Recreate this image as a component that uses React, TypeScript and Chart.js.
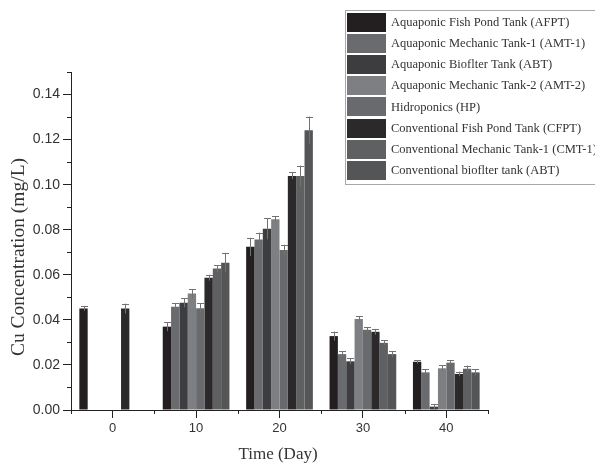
import React, { useEffect, useRef } from "react";
import { Chart, registerables } from "chart.js";

Chart.register(...registerables);

// Sampling days
const days = ["0", "10", "20", "30", "40"];

// Series names
const seriesNames = [
  "Aquaponic Fish Pond Tank (AFPT)",
  "Aquaponic Mechanic Tank-1 (AMT-1)",
  "Aquaponic Bioflter Tank (ABT)",
  "Aquaponic Mechanic Tank-2 (AMT-2)",
  "Hidroponics (HP)",
  "Conventional Fish Pond Tank (CFPT)",
  "Conventional Mechanic Tank-1 (CMT-1)",
  "Conventional bioflter tank (ABT)",
];

const seriesColors = [
  "#231f20",
  "#6a6b6e",
  "#3d3d3f",
  "#7e7f82",
  "#696a6d",
  "#2b292a",
  "#5f6062",
  "#545557",
];

// Cu concentration (mg/L) per series, per day
const afpt = [0.045, 0.037, 0.0724, 0.0328, 0.0214];
const amt1 = [null, 0.0458, 0.0757, 0.0248, 0.0167];
const abt = [null, 0.0476, 0.0804, 0.0216, 0.0015];
const amt2 = [null, 0.0517, 0.0847, 0.0404, 0.0185];
const hp = [null, 0.0451, 0.071, 0.0356, 0.021];
const cfpt = [0.045, 0.0587, 0.1039, 0.0347, 0.016];
const cmt1 = [null, 0.0628, 0.1039, 0.0298, 0.0183];
const cbt = [null, 0.0653, 0.1242, 0.0248, 0.0167];

// Standard deviations
const afptErr = [0.001, 0.002, 0.004, 0.002, 0.0008];
const amt1Err = [0, 0.0015, 0.003, 0.0013, 0.0013];
const abtErr = [0, 0.002, 0.0046, 0.0013, 0.0012];
const amt2Err = [0, 0.002, 0.0012, 0.0011, 0.0013];
const hpErr = [0, 0.0022, 0.0023, 0.0012, 0.001];
const cfptErr = [0.0022, 0.0013, 0.0015, 0.0013, 0.001];
const cmt1Err = [0, 0.0015, 0.0046, 0.0012, 0.0014];
const cbtErr = [0, 0.0042, 0.006, 0.0013, 0.0013];

// Y axis tick values
const yTicks = [0, 0.02, 0.04, 0.06, 0.08, 0.1, 0.12, 0.14];

const seriesValues = [afpt, amt1, abt, amt2, hp, cfpt, cmt1, cbt];
const seriesErrors = [afptErr, amt1Err, abtErr, amt2Err, hpErr, cfptErr, cmt1Err, cbtErr];

const SERIF = "'Liberation Serif', 'Times New Roman', serif";
const SANS = "'Liberation Sans', Arial, sans-serif";

const decorPlugin = {
  id: "decor",
  afterDatasetsDraw(chart: any) {
    const ctx = chart.ctx;
    const y = chart.scales.y;
    // error bars
    ctx.save();
    ctx.strokeStyle = "#727272";
    ctx.lineWidth = 1;
    chart.data.datasets.forEach((ds: any, di: number) => {
      const meta = chart.getDatasetMeta(di);
      const errs = seriesErrors[di];
      meta.data.forEach((el: any, i: number) => {
        const v = ds.data[i];
        const e = errs[i];
        if (v == null || !e) return;
        const x = Math.round(el.x) + 0.5;
        const yt = y.getPixelForValue(v + e);
        const yb = y.getPixelForValue(Math.max(0, v - e));
        ctx.beginPath();
        ctx.moveTo(x, yt);
        ctx.lineTo(x, yb);
        ctx.moveTo(x - 3.5, Math.round(yt) + 0.5);
        ctx.lineTo(x + 3.5, Math.round(yt) + 0.5);
        ctx.stroke();
      });
    });
    ctx.restore();
  },
  afterDraw(chart: any) {
    const ctx = chart.ctx;
    const xs = chart.scales.x;
    const ys = chart.scales.y;
    const area = chart.chartArea;
    ctx.save();
    ctx.strokeStyle = "#222";
    ctx.lineWidth = 1;
    // minor ticks on y axis
    for (let k = 0; k < yTicks.length; k++) {
      const v = yTicks[k] + 0.01;
      const py = Math.round(ys.getPixelForValue(v)) + 0.5;
      ctx.beginPath();
      ctx.moveTo(area.left - 4, py);
      ctx.lineTo(area.left, py);
      ctx.stroke();
    }
    // minor ticks on x axis at category boundaries
    const step = xs.getPixelForValue(1) - xs.getPixelForValue(0);
    for (let i = 0; i <= days.length; i++) {
      const px = Math.round(xs.getPixelForValue(0) + (i - 0.5) * step) + 0.5;
      ctx.beginPath();
      ctx.moveTo(px, area.bottom);
      ctx.lineTo(px, area.bottom + 4);
      ctx.stroke();
    }
    // axis titles
    ctx.fillStyle = "#333";
    ctx.font = `17px ${SERIF}`;
    ctx.textAlign = "center";
    ctx.textBaseline = "middle";
    ctx.fillText("Time (Day)", 278, 455);
    ctx.save();
    ctx.translate(19, 257);
    ctx.rotate(-Math.PI / 2);
    ctx.font = `19.5px ${SERIF}`;
    ctx.fillText("Cu Concentration (mg/L)", 0, 0);
    ctx.restore();

    // legend
    const lx = 345;
    const ly = 10;
    ctx.fillStyle = "#fff";
    ctx.fillRect(lx, ly, 260, 175);
    ctx.strokeStyle = "#a8a8a8";
    ctx.strokeRect(lx + 0.5, ly + 0.5, 260, 174);
    ctx.font = `12.5px ${SERIF}`;
    ctx.textAlign = "left";
    ctx.textBaseline = "middle";
    seriesNames.forEach((name, i) => {
      const top = 12.5 + i * 21.2;
      ctx.fillStyle = seriesColors[i];
      ctx.fillRect(347, Math.round(top), 39, 19);
      ctx.fillStyle = "#333";
      ctx.fillText(name, 391, top + 10);
    });
    ctx.restore();
  },
};

export default function App() {
  const ref = useRef<HTMLCanvasElement | null>(null);

  useEffect(() => {
    if (!ref.current) return;
    const chart = new Chart(ref.current, {
      type: "bar",
      data: {
        labels: days,
        datasets: seriesNames.map((name, i) => ({
          label: name,
          data: seriesValues[i],
          backgroundColor: seriesColors[i],
          borderWidth: 0,
          categoryPercentage: 0.8,
          barPercentage: 1.0,
        })),
      },
      options: {
        responsive: false,
        animation: false,
        layout: { padding: { left: 0, top: 72, right: 107, bottom: 0 } },
        plugins: {
          legend: { display: false },
          tooltip: { enabled: false },
        },
        scales: {
          x: {
            type: "category",
            offset: true,
            grid: {
              display: true,
              offset: false,
              drawOnChartArea: false,
              drawTicks: true,
              tickLength: 8,
              color: "#222",
            },
            border: { display: true, color: "#222", width: 1 },
            ticks: {
              color: "#333",
              font: { family: SANS, size: 13 },
              padding: 3,
              maxRotation: 0,
            },
            afterFit: (s: any) => {
              s.height = 55;
            },
          },
          y: {
            min: 0,
            max: 0.15,
            grid: {
              display: true,
              drawOnChartArea: false,
              drawTicks: true,
              tickLength: 8,
              color: "#222",
            },
            border: { display: true, color: "#222", width: 1 },
            ticks: {
              color: "#333",
              font: { family: SANS, size: 14 },
              padding: 3,
              callback: (v: any) => Number(v).toFixed(2),
            },
            afterBuildTicks: (s: any) => {
              s.ticks = yTicks.map((v) => ({ value: v }));
            },
            afterFit: (s: any) => {
              s.width = 71;
            },
          },
        },
      },
      plugins: [decorPlugin],
    });
    return () => chart.destroy();
  }, []);

  return (
    <div style={{ position: "fixed", left: 0, top: 0, width: 595, height: 465, background: "#fff" }}>
      <canvas ref={ref} width={595} height={465} />
    </div>
  );
}
